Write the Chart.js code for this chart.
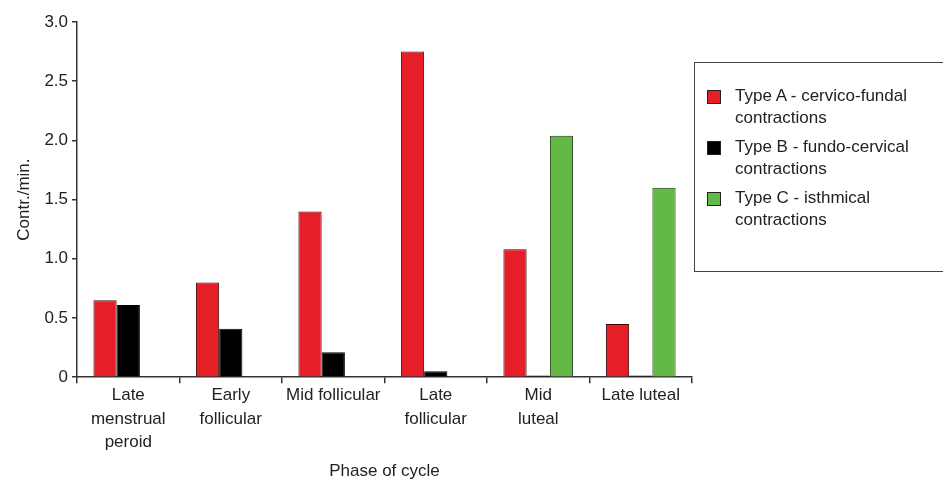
<!DOCTYPE html>
<html>
<head>
<meta charset="utf-8">
<script src="https://cdn.jsdelivr.net/npm/chart.js@4.4.1/dist/chart.umd.min.js"></script>
<style>
  html, body { margin: 0; padding: 0; background: #fff; }
  #wrap { position: relative; width: 943px; height: 484px; }
  #legend {
    position: absolute; left: 694px; top: 62px; width: 260px; height: 210px;
    border: 1.5px solid #444; box-sizing: border-box;
    font-family: "Liberation Sans", Arial, sans-serif; font-size: 17px; color: #222;
  }
  .item { position: absolute; left: 12px; line-height: 22px; }
  .sw { position: absolute; left: 0; top: 5px; width: 14px; height: 14px; box-sizing: border-box; border: 1px solid #222; }
  .txt { margin-left: 28px; }
</style>
</head>
<body>
<div id="wrap">
  <canvas id="barChart" width="943" height="484"></canvas>
  <div id="legend"></div>
</div>
<script>
// categories and values
const phases = [
  ["Late", "menstrual", "peroid"],
  ["Early", "follicular"],
  "Mid follicular",
  ["Late", "follicular"],
  ["Mid", "luteal"],
  "Late luteal",
];
const typeA = [0.65, 0.8, 1.4, 2.75, 1.08, 0.45];
const typeB = [0.61, 0.41, 0.21, 0.05, 0.015, 0.015];
const typeC = [null, null, null, null, 2.04, 1.6];
const yTickLabels = ["0", "0.5", "1.0", "1.5", "2.0", "2.5", "3.0"];

const legendText = [
  ["Type A - cervico-fundal", "contractions"],
  ["Type B - fundo-cervical", "contractions"],
  ["Type C - isthmical", "contractions"],
];

document.addEventListener("DOMContentLoaded", function () {
  const ctx = document.getElementById("barChart").getContext("2d");
  Chart.defaults.font.family = '"Liberation Sans", Arial, sans-serif';
  Chart.defaults.color = "#222";

  const myChart = new Chart(ctx, {
    type: "bar",
    data: {
      labels: phases,
      datasets: [
        { label: legendText[0].join(" "), data: typeA, backgroundColor: "#e61e28", borderColor: "#3a0a0a", borderWidth: 1 },
        { label: legendText[1].join(" "), data: typeB, backgroundColor: "#000000", borderColor: "#000000", borderWidth: 1 },
        { label: legendText[2].join(" "), data: typeC, backgroundColor: "#62b946", borderColor: "#1d3a12", borderWidth: 1 },
      ],
    },
    options: {
      responsive: false,
      animation: false,
      categoryPercentage: 0.68,
      barPercentage: 1.0,
      layout: { padding: { left: 10, right: 251, top: 22, bottom: 2 } },
      plugins: { legend: { display: false }, tooltip: { enabled: false } },
      scales: {
        x: {
          offset: true,
          grid: { display: true, drawOnChartArea: false, offset: true, tickLength: 6, color: "#333", lineWidth: 1.5 },
          border: { display: true, color: "#333", width: 1.5 },
          ticks: { maxRotation: 0, autoSkip: false, padding: 0, font: { size: 17, lineHeight: 1.4 }, color: "#222" },
          title: { display: true, text: "Phase of cycle", font: { size: 17 }, color: "#222", padding: { top: 7, bottom: 0 } },
        },
        y: {
          min: 0,
          max: 3,
          grid: { display: true, drawOnChartArea: false, tickLength: 5, color: "#333", lineWidth: 1.5 },
          border: { display: true, color: "#333", width: 1.5 },
          ticks: {
            stepSize: 0.5,
            padding: 4,
            font: { size: 17 },
            color: "#222",
            callback: function (value, index) {
              return yTickLabels[index];
            },
          },
          title: { display: true, text: "Contr./min.", font: { size: 17 }, color: "#222", padding: { bottom: 6 } },
        },
      },
    },
  });

  // html legend built from the datasets
  const legend = document.getElementById("legend");
  const tops = [22, 73, 124];
  myChart.data.datasets.forEach(function (ds, i) {
    const item = document.createElement("div");
    item.className = "item";
    item.style.top = tops[i] + "px";
    const sw = document.createElement("span");
    sw.className = "sw";
    sw.style.background = ds.backgroundColor;
    const txt = document.createElement("div");
    txt.className = "txt";
    txt.innerHTML = legendText[i].join("<br>");
    item.appendChild(sw);
    item.appendChild(txt);
    legend.appendChild(item);
  });
});
</script>
</body>
</html>
